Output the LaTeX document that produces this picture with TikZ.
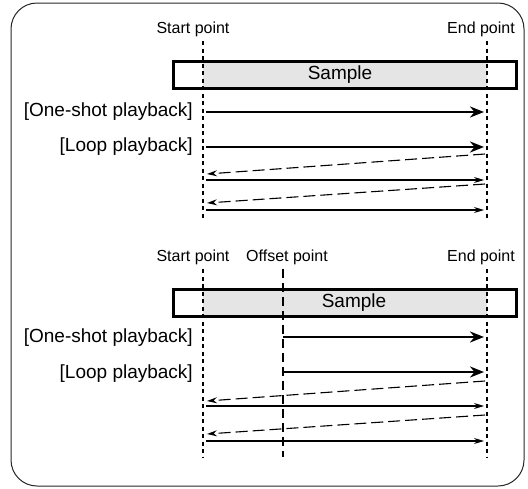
\documentclass[tikz,border=0pt]{standalone}
\usepackage{fontspec}
\setmainfont{Liberation Sans}
\usetikzlibrary{arrows.meta}

\definecolor{samplegray}{gray}{0.9}

\begin{document}
\begin{tikzpicture}[x=1pt,y=-1pt,>=Stealth,
 lbl/.style={font=\fontsize{16}{18}\selectfont,inner sep=0pt},
 mode/.style={font=\fontsize{19}{21}\selectfont,anchor=east,inner sep=0pt},
 smp/.style={font=\fontsize{19}{21}\selectfont,inner sep=0pt},
 marker/.style={line width=2.3pt,dash pattern=on 4pt off 3.5pt},
 offmark/.style={line width=2.3pt,dash pattern=on 9pt off 5pt},
 sample/.style={draw,line width=3pt,minimum width=343pt,minimum height=27pt,inner sep=0pt},
 play/.style={line width=2.6pt,-{Stealth[length=14pt,width=11pt]}},
 pass/.style={line width=1.1pt,-{Stealth[length=10pt,width=6pt]}},
 back/.style={line width=1.1pt,dash pattern=on 12pt off 5pt,-{Stealth[length=10pt,width=6pt]}}]
\useasboundingbox (0,0) rectangle (528,488);

% frame
\draw[line width=1pt,black!85,rounded corners=26pt] (11,3) rectangle (524,486);

% upper panel: playback from the start point
\node[lbl] (st1) at (193,29) {Start point};
\node[lbl] (en1) at (481,29) {End point};
\fill[samplegray] (203,61) rectangle (487,89);
\foreach \x/\n in {203/s,487/e} {
  \coordinate (\n1top) at (\x,41);
  \coordinate (\n1bot) at (\x,220);
  \draw[marker] (\n1top) -- (\n1bot);
}
\node[sample] (box1) at (345,75) {};
\node[smp] (smp1) at (340,75) {Sample};
\node[mode] (one1) at (193,112) {[One-shot playback]};
\node[mode] (loop1) at (193,147) {[Loop playback]};
\foreach \y/\n in {112/a,147/b} {
  \coordinate (\n1l) at (206,\y);
  \coordinate (\n1r) at (484,\y);
  \draw[play] (\n1l) -- (\n1r);
}
\foreach \y/\n in {180/c,210/d} {
  \coordinate (\n1l) at (206,\y);
  \coordinate (\n1r) at (484,\y);
  \draw[pass] (\n1l) -- (\n1r);
}
\foreach \ya/\yb/\n in {154/174/f,184/203/g} {
  \coordinate (\n1r) at (485,\ya);
  \coordinate (\n1l) at (207,\yb);
  \draw[back] (\n1r) -- (\n1l);
}

% lower panel: playback from the offset point
\node[lbl] (st2) at (193,257) {Start point};
\node[lbl] (of2) at (287,257) {Offset point};
\node[lbl] (en2) at (481,257) {End point};
\fill[samplegray] (203,289) rectangle (487,317);
\foreach \x/\n in {203/s,487/e} {
  \coordinate (\n2top) at (\x,269);
  \coordinate (\n2bot) at (\x,457);
  \draw[marker] (\n2top) -- (\n2bot);
}
\coordinate (o2top) at (283,269);
\coordinate (o2bot) at (283,457);
\draw[offmark] (o2top) -- (o2bot);
\node[sample] (box2) at (345,303) {};
\node[smp] (smp2) at (354,303) {Sample};
\node[mode] (one2) at (193,338) {[One-shot playback]};
\node[mode] (loop2) at (193,374) {[Loop playback]};
\foreach \y/\n in {337/a,372/b} {
  \coordinate (\n2l) at (283,\y);
  \coordinate (\n2r) at (484,\y);
  \draw[play] (\n2l) -- (\n2r);
}
\foreach \y/\n in {406/c,441/d} {
  \coordinate (\n2l) at (206,\y);
  \coordinate (\n2r) at (484,\y);
  \draw[pass] (\n2l) -- (\n2r);
}
\foreach \ya/\yb/\n in {381/401/f,415/434/g} {
  \coordinate (\n2r) at (485,\ya);
  \coordinate (\n2l) at (207,\yb);
  \draw[back] (\n2r) -- (\n2l);
}
\end{tikzpicture}
\end{document}
